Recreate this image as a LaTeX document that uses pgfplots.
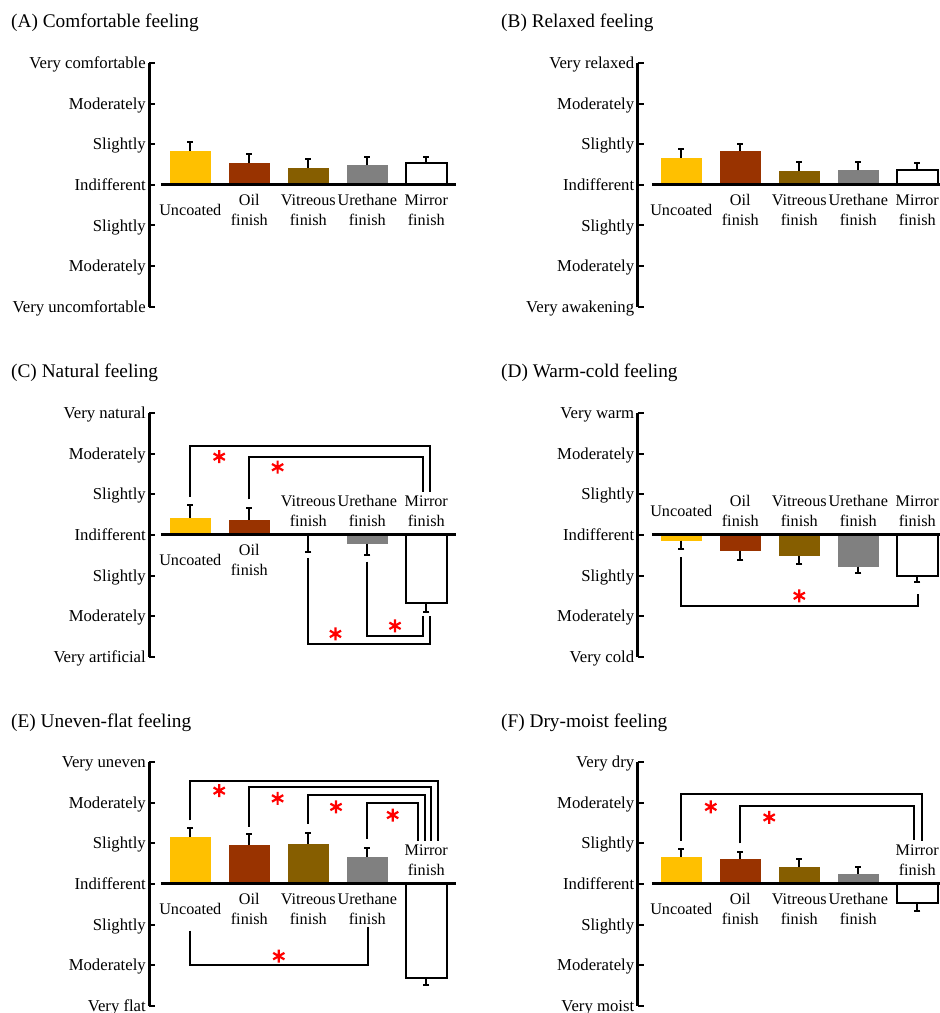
\documentclass[border=0pt]{standalone}
\usepackage{fontspec}
\setmainfont{Liberation Serif}
\usepackage{pgfplots}
\pgfplotsset{compat=1.18}
\definecolor{cU}{RGB}{255,192,0}
\definecolor{cO}{RGB}{153,51,0}
\definecolor{cV}{RGB}{134,94,0}
\definecolor{cR}{RGB}{128,128,128}
\newcommand{\lab}{\fontsize{16.7bp}{20bp}\selectfont}
\newcommand{\clab}{\fontsize{16.2bp}{20bp}\selectfont}
\newcommand{\ttl}{\fontsize{19.3bp}{23bp}\selectfont}
\pgfplotsset{
  panel/.style n args={3}{%
    scale only axis, width=#3, height=243.3bp,
    xmin=#1, xmax=#2, ymin=-3, ymax=3, clip=false,
    axis x line=none, axis y line*=left, xtick=\empty,
    ytick={-3,-2,-1,0,1,2,3},
    tick align=inside, major tick length=6bp,
    major tick style={line width=2bp, black},
    axis line style={line width=2.6bp, black},
    yticklabel style={font=\lab, anchor=base east, yshift=-5.5bp},
  },
  bp/.style={ybar, bar shift=0pt, bar width=40.7bp,
    error bars/y dir=plus, error bars/y explicit,
    error bars/error bar style={line width=2bp,black},
    error bars/error mark options={rotate=90,mark size=3bp,line width=2bp,black}},
  bn/.style={ybar, bar shift=0pt, bar width=40.7bp,
    error bars/y dir=minus, error bars/y explicit,
    error bars/error bar style={line width=2bp,black},
    error bars/error mark options={rotate=90,mark size=3bp,line width=2bp,black}},
  mir/.style={fill=white, draw=black, line width=2bp},
}
\newcommand{\lbelow}[3]{%
  \node[anchor=base,font=\clab,inner sep=0pt,yshift=-21bp] at (axis cs:#1,0) {#2};
  \node[anchor=base,font=\clab,inner sep=0pt,yshift=-41bp] at (axis cs:#1,0) {#3};}
\newcommand{\lbelowone}[2]{%
  \node[anchor=base,font=\clab,inner sep=0pt,yshift=-31bp] at (axis cs:#1,0) {#2};}
\newcommand{\labove}[3]{%
  \node[anchor=base,font=\clab,inner sep=0pt,yshift=28bp] at (axis cs:#1,0) {#2};
  \node[anchor=base,font=\clab,inner sep=0pt,yshift=8.5bp] at (axis cs:#1,0) {#3};}
\newcommand{\laboveone}[2]{%
  \node[anchor=base,font=\clab,inner sep=0pt,yshift=18bp] at (axis cs:#1,0) {#2};}
\newcommand{\sigmark}[2]{%
  \draw[red, line width=2.2bp] (axis cs:#1,#2) +(0bp,6.5bp) -- +(0bp,-6.5bp)
    (axis cs:#1,#2) +(5.63bp,3.25bp) -- +(-5.63bp,-3.25bp)
    (axis cs:#1,#2) +(-5.63bp,3.25bp) -- +(5.63bp,-3.25bp);}
\begin{document}
\begin{tikzpicture}
\useasboundingbox (0,0) rectangle (940bp,-1013bp);
% titles
\node[anchor=base west,font=\ttl,inner sep=0pt] at (11bp,-27bp) {(A) Comfortable feeling};
\node[anchor=base west,font=\ttl,inner sep=0pt] at (501bp,-27bp) {(B) Relaxed feeling};
\node[anchor=base west,font=\ttl,inner sep=0pt] at (11bp,-377bp) {(C) Natural feeling};
\node[anchor=base west,font=\ttl,inner sep=0pt] at (501bp,-377bp) {(D) Warm-cold feeling};
\node[anchor=base west,font=\ttl,inner sep=0pt] at (11bp,-727bp) {(E) Uneven-flat feeling};
\node[anchor=base west,font=\ttl,inner sep=0pt] at (501bp,-727bp) {(F) Dry-moist feeling};

% (A)
\begin{axis}[panel={-0.695}{4.5}{306.5bp}, at={(149.3bp,-63.3bp)}, anchor=north west,
  yticklabels={Very uncomfortable,Moderately,Slightly,Indifferent,Slightly,Moderately,Very comfortable}]
\addplot[fill=cU,draw=none,bp] coordinates {(0,0.84) +- (0,0.23)};
\addplot[fill=cO,draw=none,bp] coordinates {(1,0.53) +- (0,0.23)};
\addplot[fill=cV,draw=none,bp] coordinates {(2,0.43) +- (0,0.20)};
\addplot[fill=cR,draw=none,bp] coordinates {(3,0.48) +- (0,0.21)};
\addplot[mir,bp] coordinates {(4,0.53) +- (0,0.16)};
\draw[line width=3bp] (axis cs:-0.5,0) -- (axis cs:4.5,0);
\lbelowone{0}{Uncoated}
\lbelow{1}{Oil}{finish}
\lbelow{2}{Vitreous}{finish}
\lbelow{3}{Urethane}{finish}
\lbelow{4}{Mirror}{finish}
\end{axis}

% (B)
\begin{axis}[panel={-0.739}{4.385}{302.3bp}, at={(637.7bp,-63.3bp)}, anchor=north west,
  yticklabels={Very awakening,Moderately,Slightly,Indifferent,Slightly,Moderately,Very relaxed}]
\addplot[fill=cU,draw=none,bp] coordinates {(0,0.67) +- (0,0.22)};
\addplot[fill=cO,draw=none,bp] coordinates {(1,0.84) +- (0,0.18)};
\addplot[fill=cV,draw=none,bp] coordinates {(2,0.34) +- (0,0.23)};
\addplot[fill=cR,draw=none,bp] coordinates {(3,0.36) +- (0,0.20)};
\addplot[mir,bp] coordinates {(4,0.37) +- (0,0.16)};
\draw[line width=3bp] (axis cs:-0.5,0) -- (axis cs:4.385,0);
\lbelowone{0}{Uncoated}
\lbelow{1}{Oil}{finish}
\lbelow{2}{Vitreous}{finish}
\lbelow{3}{Urethane}{finish}
\lbelow{4}{Mirror}{finish}
\end{axis}

% (C)
\begin{axis}[panel={-0.695}{4.5}{306.5bp}, at={(149.3bp,-413.3bp)}, anchor=north west,
  yticklabels={Very artificial,Moderately,Slightly,Indifferent,Slightly,Moderately,Very natural}]
\addplot[fill=cU,draw=none,bp] coordinates {(0,0.42) +- (0,0.33)};
\addplot[fill=cO,draw=none,bp] coordinates {(1,0.37) +- (0,0.30)};
\addplot[fill=cV,draw=none,bn] coordinates {(2,-0.02) +- (0,0.39)};
\addplot[fill=cR,draw=none,bn] coordinates {(3,-0.22) +- (0,0.27)};
\addplot[mir,bn] coordinates {(4,-1.68) +- (0,0.21)};
\draw[line width=3bp] (axis cs:-0.5,0) -- (axis cs:4.5,0);
\draw[line width=2bp] (axis cs:0,0.94) |- (axis cs:4.06,2.2) -- (axis cs:4.06,1.07);
\draw[line width=2bp] (axis cs:1,0.88) |- (axis cs:3.94,1.92) -- (axis cs:3.94,1.07);
\draw[line width=2bp] (axis cs:2,-0.57) |- (axis cs:4.06,-2.7) -- (axis cs:4.06,-1.99);
\draw[line width=2bp] (axis cs:3,-0.66) |- (axis cs:3.94,-2.48) -- (axis cs:3.94,-1.99);
\sigmark{0.49}{1.93}
\sigmark{1.48}{1.67}
\sigmark{2.46}{-2.44}
\sigmark{3.47}{-2.24}
\lbelowone{0}{Uncoated}
\lbelow{1}{Oil}{finish}
\labove{2}{Vitreous}{finish}
\labove{3}{Urethane}{finish}
\labove{4}{Mirror}{finish}
\end{axis}

% (D)
\begin{axis}[panel={-0.739}{4.385}{302.3bp}, at={(637.7bp,-413.3bp)}, anchor=north west,
  yticklabels={Very cold,Moderately,Slightly,Indifferent,Slightly,Moderately,Very warm}]
\addplot[fill=cU,draw=none,bn] coordinates {(0,-0.14) +- (0,0.21)};
\addplot[fill=cO,draw=none,bn] coordinates {(1,-0.39) +- (0,0.22)};
\addplot[fill=cV,draw=none,bn] coordinates {(2,-0.53) +- (0,0.19)};
\addplot[fill=cR,draw=none,bn] coordinates {(3,-0.78) +- (0,0.15)};
\addplot[mir,bn] coordinates {(4,-1.02) +- (0,0.15)};
\draw[line width=3bp] (axis cs:-0.5,0) -- (axis cs:4.385,0);
\draw[line width=2bp] (axis cs:0,-0.55) |- (axis cs:4.02,-1.75) -- (axis cs:4.02,-1.45);
\sigmark{2.0}{-1.50}
\laboveone{0}{Uncoated}
\labove{1}{Oil}{finish}
\labove{2}{Vitreous}{finish}
\labove{3}{Urethane}{finish}
\labove{4}{Mirror}{finish}
\end{axis}

% (E)
\begin{axis}[panel={-0.695}{4.5}{306.5bp}, at={(149.3bp,-762.3bp)}, anchor=north west,
  yticklabels={Very flat,Moderately,Slightly,Indifferent,Slightly,Moderately,Very uneven}]
\addplot[fill=cU,draw=none,bp] coordinates {(0,1.16) +- (0,0.23)};
\addplot[fill=cO,draw=none,bp] coordinates {(1,0.97) +- (0,0.25)};
\addplot[fill=cV,draw=none,bp] coordinates {(2,0.99) +- (0,0.26)};
\addplot[fill=cR,draw=none,bp] coordinates {(3,0.67) +- (0,0.22)};
\addplot[mir,bn] coordinates {(4,-2.33) +- (0,0.17)};
\draw[line width=3bp] (axis cs:-0.5,0) -- (axis cs:4.5,0);
\draw[line width=2bp] (axis cs:0,1.57) |- (axis cs:4.19,2.54) -- (axis cs:4.19,1.07);
\draw[line width=2bp] (axis cs:1,1.41) |- (axis cs:4.08,2.38) -- (axis cs:4.08,1.07);
\draw[line width=2bp] (axis cs:2,1.48) |- (axis cs:3.97,2.20) -- (axis cs:3.97,1.07);
\draw[line width=2bp] (axis cs:3,1.11) |- (axis cs:3.86,2.00) -- (axis cs:3.86,1.07);
\draw[line width=2bp] (axis cs:0,-1.15) |- (axis cs:3.02,-1.99) -- (axis cs:3.02,-1.07);
\sigmark{0.49}{2.30}
\sigmark{1.48}{2.11}
\sigmark{2.47}{1.90}
\sigmark{3.43}{1.70}
\sigmark{1.50}{-1.78}
\lbelowone{0}{Uncoated}
\lbelow{1}{Oil}{finish}
\lbelow{2}{Vitreous}{finish}
\lbelow{3}{Urethane}{finish}
\labove{4}{Mirror}{finish}
\end{axis}

% (F)
\begin{axis}[panel={-0.739}{4.385}{302.3bp}, at={(637.7bp,-762.3bp)}, anchor=north west,
  yticklabels={Very moist,Moderately,Slightly,Indifferent,Slightly,Moderately,Very dry}]
\addplot[fill=cU,draw=none,bp] coordinates {(0,0.66) +- (0,0.19)};
\addplot[fill=cO,draw=none,bp] coordinates {(1,0.61) +- (0,0.18)};
\addplot[fill=cV,draw=none,bp] coordinates {(2,0.42) +- (0,0.20)};
\addplot[fill=cR,draw=none,bp] coordinates {(3,0.25) +- (0,0.18)};
\addplot[mir,bn] coordinates {(4,-0.48) +- (0,0.18)};
\draw[line width=3bp] (axis cs:-0.5,0) -- (axis cs:4.385,0);
\draw[line width=2bp] (axis cs:0,1.06) |- (axis cs:4.08,2.23) -- (axis cs:4.08,1.06);
\draw[line width=2bp] (axis cs:1,1.00) |- (axis cs:3.95,1.93) -- (axis cs:3.95,1.08);
\sigmark{0.50}{1.90}
\sigmark{1.49}{1.64}
\lbelowone{0}{Uncoated}
\lbelow{1}{Oil}{finish}
\lbelow{2}{Vitreous}{finish}
\lbelow{3}{Urethane}{finish}
\labove{4}{Mirror}{finish}
\end{axis}
\end{tikzpicture}
\end{document}
